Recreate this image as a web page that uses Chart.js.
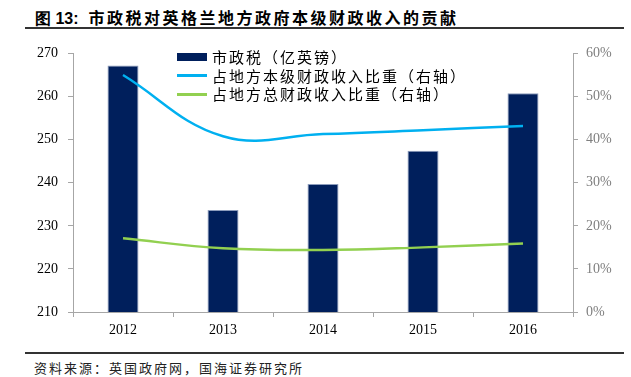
<!DOCTYPE html>
<html>
<head>
<meta charset="utf-8">
<script src="https://cdn.jsdelivr.net/npm/chart.js@4/dist/chart.umd.min.js"></script>
<style>
  body { margin: 0; background: #fff; }
  #page { position: relative; width: 631px; height: 377px; overflow: hidden; }
  #title {
    position: absolute; left: 35px; top: 5px;
    font-family: "Noto Sans CJK SC", sans-serif; font-weight: bold;
    font-size: 16px; letter-spacing: 2.5px; color: #000; white-space: nowrap;
  }
  #title b { font-family: Arial, "Liberation Sans", sans-serif; letter-spacing: 0; margin-right: 10px; }
  .rule { position: absolute; left: 25px; width: 599px; height: 1.5px; background: #333; }
  #source {
    position: absolute; left: 34px; top: 358px;
    font-family: "Noto Sans CJK SC", sans-serif; font-size: 13px;
    letter-spacing: 2px; color: #222; white-space: nowrap;
  }
  #wrap { position: absolute; left: 0; top: 35px; width: 631px; height: 307px; }
  #legend {
    position: absolute; left: 177px; top: 48px;
    font-family: "Noto Sans CJK SC", sans-serif; font-size: 15px;
    letter-spacing: 2px; color: #000;
  }
  #legend div { height: 18.5px; line-height: 18.5px; display: flex; align-items: center; white-space: nowrap; }
  #legend span.sw { display: inline-block; width: 30px; margin-right: 5px; }
</style>
</head>
<body>
<div id="page">
  <div id="title"><b>图 13:</b>市政税对英格兰地方政府本级财政收入的贡献</div>
  <div class="rule" style="top:27px"></div>
  <div id="wrap"><canvas id="chart"></canvas></div>
  <div id="legend"></div>
  <div class="rule" style="top:352px"></div>
  <div id="source">资料来源：英国政府网，国海证券研究所</div>
</div>
<script>
// categories and values
const years = ["2012", "2013", "2014", "2015", "2016"];
const councilTax = [267.2, 233.7, 239.7, 247.4, 260.8];      // 亿英镑
const shareOwnRevenue = [0.550, 0.408, 0.413, 0.422, 0.432];  // 右轴
const shareTotalRevenue = [0.171, 0.148, 0.144, 0.150, 0.159]; // 右轴

const labels = ["市政税（亿英镑）", "占地方本级财政收入比重（右轴）", "占地方总财政收入比重（右轴）"];
const colors = ["#001f5c", "#00b0f0", "#92d050"];

const axisGrey = "#a6a6a6";
const serif = "'Liberation Serif', 'Times New Roman', serif";

const ctx = document.getElementById("chart");
const chart = new Chart(ctx, {
  data: {
    labels: years,
    datasets: [
      {
        type: "bar",
        label: labels[0],
        data: councilTax,
        backgroundColor: colors[0],
        borderColor: "#8c9cbc",
        borderWidth: 1,
        barPercentage: 0.31,
        categoryPercentage: 1,
        yAxisID: "y",
        order: 3
      },
      {
        type: "line",
        label: labels[1],
        data: shareOwnRevenue,
        borderColor: colors[1],
        borderWidth: 2.5,
        pointRadius: 0,
        tension: 0.4,
        yAxisID: "y1",
        order: 1
      },
      {
        type: "line",
        label: labels[2],
        data: shareTotalRevenue,
        borderColor: colors[2],
        borderWidth: 2.5,
        pointRadius: 0,
        tension: 0.4,
        yAxisID: "y1",
        order: 2
      }
    ]
  },
  options: {
    responsive: true,
    maintainAspectRatio: false,
    animation: false,
    layout: { padding: { top: 18.5, bottom: 0, left: 0, right: 0 } },
    plugins: {
      legend: { display: false },
      tooltip: { enabled: false }
    },
    scales: {
      x: {
        offset: true,
        grid: { offset: true, drawOnChartArea: false, color: axisGrey, tickLength: 5 },
        border: { color: axisGrey },
        ticks: { color: "#000", font: { family: serif, size: 14 }, padding: 5 },
        afterFit: (axis) => { axis.height = 30; }
      },
      y: {
        position: "left",
        min: 210,
        max: 270,
        grid: { drawOnChartArea: false, color: axisGrey, tickLength: 5 },
        border: { color: axisGrey },
        ticks: { stepSize: 10, color: "#000", font: { family: serif, size: 14 }, padding: 10 },
        afterFit: (axis) => { axis.width = 73; }
      },
      y1: {
        position: "right",
        min: 0,
        max: 0.6,
        grid: { drawOnChartArea: false, color: axisGrey, tickLength: 5 },
        border: { color: axisGrey },
        ticks: {
          stepSize: 0.1,
          color: "#7f7f7f",
          font: { family: serif, size: 14 },
          padding: 8,
          callback: (v) => Math.round(v * 100) + "%"
        },
        afterFit: (axis) => { axis.width = 58; }
      }
    }
  }
});

// legend drawn as html so it can sit inside the plot like the original
const legend = document.getElementById("legend");
labels.forEach((text, i) => {
  const row = document.createElement("div");
  const sw = document.createElement("span");
  sw.className = "sw";
  sw.style.height = i === 0 ? "8px" : "3px";
  sw.style.background = colors[i];
  row.appendChild(sw);
  row.appendChild(document.createTextNode(text));
  legend.appendChild(row);
});
</script>
</body>
</html>
